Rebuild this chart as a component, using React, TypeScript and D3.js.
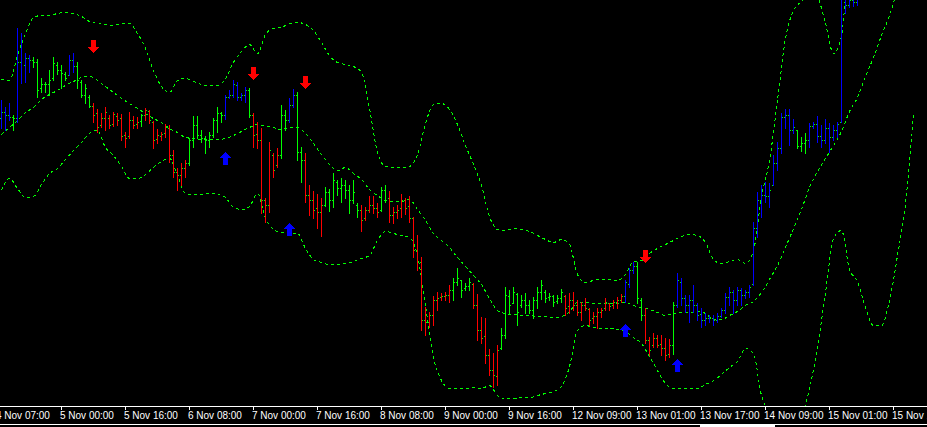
import React from 'react';
import * as d3 from 'd3';

const W = 927;
const H = 427;

// quotes in points (price x 10^4), one entry per H1 bar
const barHigh = [
  12900, 12893, 12897, 12885, 12972, 12967, 12947, 12945, 12943, 12941,
  12922, 12918, 12930, 12943, 12938, 12935, 12928, 12945, 12947, 12938,
  12920, 12916, 12905, 12897, 12891, 12887, 12893, 12885, 12888, 12887,
  12886, 12868, 12888, 12884, 12883, 12886, 12892, 12890, 12879, 12871,
  12868, 12876, 12875, 12850, 12832, 12837, 12840, 12862, 12884, 12884,
  12870, 12864, 12868, 12882, 12893, 12888, 12905, 12910, 12920, 12918,
  12907, 12913, 12912, 12887, 12878, 12872, 12802, 12858, 12847, 12852,
  12895, 12890, 12902, 12911, 12908, 12853, 12847, 12815, 12809, 12806,
  12802, 12813, 12811, 12827, 12820, 12822, 12820, 12815, 12820, 12797,
  12795, 12793, 12804, 12804, 12797, 12813, 12815, 12809, 12793, 12795,
  12806, 12802, 12804, 12783, 12765, 12743, 12693, 12688, 12704, 12708,
  12707, 12708, 12715, 12722, 12732, 12720, 12717, 12722, 12717, 12706,
  12683, 12682, 12651, 12647, 12655, 12672, 12713, 12710, 12713, 12707,
  12705, 12707, 12700, 12703, 12713, 12720, 12710, 12707, 12705, 12705,
  12711, 12705, 12707, 12708, 12700, 12698, 12702, 12692, 12688, 12692,
  12692, 12702, 12697, 12700, 12703, 12706, 12720, 12732, 12738, 12738,
  12702, 12692, 12663, 12667, 12665, 12665, 12662, 12661, 12698, 12727,
  12722, 12705, 12705, 12715, 12697, 12692, 12687, 12685, 12685, 12687,
  12692, 12707, 12713, 12710, 12713, 12712, 12710, 12715, 12778, 12808,
  12815, 12818, 12817, 12845, 12858, 12887, 12891, 12891, 12881, 12870,
  12863, 12867, 12877, 12878, 12884, 12875, 12881, 12877, 12875, 12878,
  13030, 13040, 13045, 13050, 13055,
];
const barLow = [
  12872, 12870, 12880, 12870, 12878, 12917, 12918, 12928, 12933, 12903,
  12908, 12908, 12905, 12920, 12926, 12912, 12920, 12925, 12928, 12912,
  12903, 12897, 12893, 12878, 12868, 12873, 12870, 12872, 12874, 12875,
  12860, 12853, 12862, 12872, 12872, 12874, 12880, 12877, 12852, 12857,
  12860, 12863, 12838, 12823, 12810, 12815, 12823, 12835, 12853, 12862,
  12858, 12847, 12853, 12863, 12868, 12878, 12881, 12902, 12903, 12900,
  12900, 12898, 12883, 12853, 12852, 12787, 12778, 12788, 12823, 12833,
  12842, 12870, 12878, 12893, 12840, 12818, 12798, 12785, 12782, 12772,
  12764, 12794, 12789, 12793, 12805, 12798, 12802, 12787, 12797, 12783,
  12769, 12780, 12788, 12787, 12783, 12789, 12798, 12778, 12777, 12782,
  12783, 12786, 12778, 12743, 12730, 12670, 12665, 12673, 12675, 12690,
  12700, 12700, 12698, 12700, 12715, 12703, 12710, 12710, 12692, 12660,
  12657, 12637, 12625, 12613, 12615, 12651, 12662, 12687, 12697, 12675,
  12693, 12687, 12687, 12682, 12692, 12701, 12698, 12700, 12694, 12697,
  12698, 12685, 12687, 12690, 12685, 12680, 12690, 12675, 12677, 12672,
  12683, 12690, 12690, 12692, 12692, 12698, 12698, 12713, 12727, 12697,
  12680, 12657, 12645, 12653, 12653, 12645, 12640, 12643, 12646, 12693,
  12695, 12688, 12678, 12688, 12680, 12673, 12675, 12678, 12675, 12678,
  12683, 12687, 12695, 12687, 12695, 12695, 12702, 12703, 12715, 12763,
  12783, 12798, 12793, 12815, 12830, 12847, 12872, 12855, 12867, 12852,
  12849, 12847, 12853, 12872, 12858, 12853, 12857, 12848, 12860, 12863,
  12878, 12987, 12993, 12994, 12995,
];
const barOpen = [
  12882, 12888, 12885, 12883, 12882, 12938, 12935, 12942, 12940, 12938,
  12912, 12916, 12916, 12922, 12935, 12930, 12926, 12925, 12940, 12934,
  12918, 12905, 12903, 12894, 12887, 12875, 12882, 12882, 12876, 12884,
  12882, 12865, 12864, 12880, 12876, 12879, 12885, 12889, 12878, 12861,
  12864, 12867, 12872, 12845, 12828, 12825, 12832, 12837, 12860, 12875,
  12865, 12862, 12860, 12865, 12880, 12887, 12885, 12903, 12905, 12915,
  12903, 12905, 12910, 12885, 12866, 12860, 12800, 12795, 12845, 12835,
  12845, 12885, 12880, 12895, 12905, 12848, 12840, 12805, 12800, 12792,
  12788, 12795, 12808, 12800, 12818, 12812, 12815, 12810, 12800, 12795,
  12790, 12782, 12790, 12795, 12792, 12790, 12810, 12802, 12785, 12788,
  12792, 12800, 12794, 12782, 12750, 12738, 12680, 12678, 12685, 12700,
  12703, 12704, 12705, 12710, 12718, 12720, 12712, 12714, 12716, 12695,
  12670, 12664, 12645, 12630, 12624, 12652, 12665, 12704, 12697, 12706,
  12695, 12700, 12695, 12690, 12700, 12708, 12708, 12703, 12704, 12699,
  12702, 12704, 12694, 12700, 12695, 12688, 12695, 12691, 12682, 12684,
  12688, 12692, 12697, 12695, 12698, 12700, 12704, 12716, 12730, 12734,
  12700, 12685, 12660, 12655, 12662, 12656, 12652, 12646, 12655, 12695,
  12718, 12702, 12695, 12700, 12695, 12686, 12680, 12682, 12682, 12680,
  12684, 12690, 12703, 12708, 12700, 12710, 12705, 12708, 12716, 12772,
  12800, 12805, 12804, 12815, 12837, 12852, 12883, 12885, 12870, 12870,
  12854, 12857, 12860, 12874, 12876, 12864, 12860, 12872, 12863, 12870,
  12878, 13020, 12995, 13000, 12998,
];
const barClose = [
  12888, 12885, 12883, 12882, 12938, 12960, 12942, 12940, 12938, 12910,
  12916, 12916, 12920, 12937, 12930, 12927, 12922, 12940, 12934, 12920,
  12905, 12912, 12894, 12885, 12873, 12882, 12888, 12875, 12886, 12880,
  12864, 12862, 12880, 12875, 12878, 12885, 12890, 12880, 12860, 12865,
  12866, 12873, 12845, 12828, 12825, 12832, 12837, 12860, 12875, 12865,
  12862, 12860, 12865, 12880, 12887, 12885, 12903, 12905, 12916, 12903,
  12905, 12910, 12885, 12865, 12860, 12800, 12795, 12850, 12830, 12845,
  12885, 12880, 12895, 12905, 12848, 12840, 12805, 12800, 12790, 12788,
  12795, 12808, 12800, 12820, 12812, 12815, 12810, 12800, 12808, 12790,
  12780, 12790, 12795, 12792, 12788, 12810, 12800, 12785, 12788, 12790,
  12800, 12792, 12782, 12750, 12738, 12680, 12678, 12685, 12700, 12702,
  12704, 12705, 12710, 12718, 12722, 12710, 12714, 12718, 12695, 12670,
  12662, 12645, 12630, 12625, 12650, 12665, 12705, 12695, 12708, 12688,
  12700, 12695, 12690, 12700, 12708, 12715, 12702, 12704, 12698, 12702,
  12708, 12692, 12700, 12695, 12688, 12695, 12692, 12680, 12684, 12688,
  12690, 12698, 12694, 12698, 12700, 12704, 12718, 12730, 12734, 12702,
  12685, 12660, 12650, 12662, 12655, 12652, 12645, 12655, 12695, 12720,
  12702, 12695, 12700, 12695, 12685, 12680, 12682, 12682, 12680, 12684,
  12690, 12703, 12708, 12700, 12710, 12705, 12708, 12713, 12772, 12800,
  12805, 12804, 12810, 12837, 12852, 12883, 12885, 12870, 12873, 12854,
  12857, 12860, 12874, 12876, 12864, 12860, 12872, 12863, 12870, 12876,
  13020, 12995, 13000, 12998, 13002,
];
// colour-state indicator per bar: B = up, R = down, G = flat
const barState =
  'BBBGBBBBGG' + 'GGGGGGGBBG' + 'GGGRRRRRRR' + 'RRRRRGRRRR' + 'RRRRRRRGGG' +
  'GGGGGGBBBB' + 'BBGRRRRRRR' + 'GGBBGGRRRR' + 'RGGGGGGGGG' + 'RRRRRGGRRR' +
  'RRRRRRRRRR' + 'RRRGGGGGRR' + 'RRRRRGGGGG' + 'GGGGGGGGGG' + 'GRRRRRRRRR' +
  'RRRRRRBBBG' + 'GRRRRRRRGB' + 'BBBBBBBBBB' + 'BBBBBBBBBB' + 'BBBBBBBBBG' +
  'GGBBBBBBBB' + 'BBBBB';

// Bollinger bands, sampled every second bar
const bandUpper = [
  12921, 12920, 12945, 12967, 12983, 12985, 12985, 12987, 12988, 12987,
  12984, 12979, 12977, 12976, 12975, 12977, 12977, 12967, 12952, 12930,
  12914, 12908, 12920, 12922, 12919, 12916, 12915, 12915, 12922, 12938,
  12949, 12956, 12947, 12966, 12972, 12973, 12977, 12978, 12976, 12970,
  12958, 12945, 12938, 12936, 12934, 12928, 12892, 12848, 12834, 12833,
  12833, 12834, 12846, 12877, 12896, 12897, 12891, 12876, 12855, 12836,
  12815, 12784, 12771, 12770, 12772, 12771, 12769, 12765, 12761, 12758,
  12761, 12756, 12726, 12718, 12720, 12721, 12721, 12720, 12726, 12739,
  12740, 12747, 12752, 12756, 12760, 12764, 12766, 12765, 12758, 12741,
  12737, 12739, 12741, 12737, 12750, 12804, 12840, 12900, 12962, 12990,
  12999, 13008, 13003, 12977, 12947, 12965, 13050, 13086, 13153, 13211,
  13255, 13275, 13265, 13250, 13205,
];
const bandMiddle = [
  12866, 12873, 12880, 12888, 12893, 12901, 12906, 12910, 12915, 12919,
  12923, 12924, 12920, 12914, 12908, 12902, 12897, 12892, 12887, 12882,
  12878, 12872, 12868, 12863, 12862, 12861, 12861, 12861, 12862, 12865,
  12869, 12873, 12876, 12874, 12873, 12871, 12873, 12873, 12867, 12857,
  12846, 12836, 12830, 12833, 12827, 12821, 12811, 12805, 12800, 12799,
  12799, 12801, 12791, 12780, 12767, 12760, 12753, 12743, 12734, 12725,
  12716, 12702, 12690, 12687, 12686, 12685, 12685, 12684, 12684, 12683,
  12684, 12689, 12698, 12698, 12697, 12697, 12697, 12697, 12698, 12695,
  12693, 12691, 12688, 12685, 12687, 12688, 12688, 12689, 12687, 12681,
  12681, 12685, 12689, 12695, 12699, 12708, 12721, 12735, 12753, 12772,
  12791, 12813, 12829, 12842, 12855, 12869, 12889, 12903, 12924, 12943,
  12965, 12985, 13010, 13030, 13050,
];
const bandLower = [
  12810, 12822, 12812, 12803, 12804, 12816, 12827, 12832, 12841, 12850,
  12858, 12867, 12870, 12853, 12845, 12834, 12822, 12822, 12826, 12833,
  12839, 12842, 12825, 12807, 12806, 12806, 12807, 12806, 12803, 12793,
  12791, 12794, 12807, 12782, 12771, 12768, 12767, 12767, 12752, 12741,
  12738, 12736, 12736, 12737, 12739, 12742, 12745, 12760, 12769, 12767,
  12765, 12763, 12745, 12695, 12643, 12620, 12612, 12612, 12612, 12613,
  12612, 12615, 12605, 12602, 12602, 12603, 12603, 12605, 12607, 12609,
  12614, 12634, 12670, 12675, 12673, 12672, 12672, 12671, 12669, 12663,
  12657, 12644, 12630, 12617, 12612, 12612, 12612, 12612, 12616, 12620,
  12626, 12633, 12639, 12652, 12647, 12605, 12588, 12572, 12550, 12555,
  12580, 12612, 12653, 12708, 12762, 12770, 12731, 12719, 12693, 12675,
  12675, 12700, 12745, 12797, 12885,
];

// signal arrows: bar index and tip price
const downArrowBars = [23, 63, 76, 161];
const downArrowPrices = [12947, 12920, 12911, 12737];
const upArrowBars = [56, 72, 156, 169];
const upArrowPrices = [12848, 12777, 12676, 12641];

const tickBars = [-1, 15, 31, 47, 63, 79, 95, 111, 127, 143, 159, 175, 191, 207, 223];
const tickLabels = [
  '4 Nov 07:00', '5 Nov 00:00', '5 Nov 16:00', '6 Nov 08:00', '7 Nov 00:00',
  '7 Nov 16:00', '8 Nov 08:00', '9 Nov 00:00', '9 Nov 16:00', '12 Nov 09:00',
  '13 Nov 01:00', '13 Nov 17:00', '14 Nov 09:00', '15 Nov 01:00', '15 Nov 17:00',
];

const stateColor: Record<string, string> = { B: '#0000ff', R: '#ff0000', G: '#00ff00' };
const GREEN = '#00ff00';

export default function App() {
  // 4px per bar, bar k sits in pixel column 1 + 4k
  const x = d3.scaleLinear().domain([0, 1]).range([1, 5]);
  const y = d3.scaleLinear().domain([12595, 13000]).range([405, 0]);
  const py = (v: number) => Math.round(y(v));

  const bandLine = d3
    .line<number>()
    .x((_, i) => x(i * 2) + 0.5)
    .y((d) => y(d) + 0.5)
    .curve(d3.curveMonotoneX);

  const downArrow = (cx: number, t: number) =>
    `M${cx - 2.5},${t - 13}H${cx + 2.5}V${t - 6}H${cx + 5.5}L${cx},${t}L${cx - 5.5},${t - 6}H${cx - 2.5}Z`;
  const upArrow = (cx: number, t: number) =>
    `M${cx - 2.5},${t + 13}H${cx + 2.5}V${t + 6}H${cx + 5.5}L${cx},${t}L${cx - 5.5},${t + 6}H${cx - 2.5}Z`;

  return (
    <svg
      width={W}
      height={H}
      style={{ position: 'absolute', left: 0, top: 0, display: 'block', background: '#000' }}
    >
      <defs>
        <clipPath id="plot">
          <rect x={0} y={0} width={W} height={406} />
        </clipPath>
      </defs>
      <rect x={0} y={0} width={W} height={H} fill="#000" />

      <g clipPath="url(#plot)" shapeRendering="crispEdges">
        {[bandUpper, bandMiddle, bandLower].map((b, i) => (
          <path
            key={i}
            d={bandLine(b) || ''}
            fill="none"
            stroke={GREEN}
            strokeWidth={1}
            strokeDasharray="3,3"
          />
        ))}

        {barHigh.map((h, k) => {
          const cx = x(k);
          const top = py(h);
          const bot = py(barLow[k]);
          return (
            <g key={k}>
              <rect x={cx} y={top} width={1} height={bot - top + 1} fill={stateColor[barState[k]]} />
              <rect x={cx - 1} y={py(barOpen[k])} width={1} height={1} fill={GREEN} />
              <rect x={cx + 1} y={py(barClose[k])} width={1} height={1} fill={GREEN} />
            </g>
          );
        })}

        {downArrowBars.map((b, i) => (
          <path key={'d' + i} d={downArrow(x(b) + 0.5, y(downArrowPrices[i]))} fill="#ff0000" />
        ))}
        {upArrowBars.map((b, i) => (
          <path key={'u' + i} d={upArrow(x(b) + 0.5, y(upArrowPrices[i]))} fill="#0000ff" />
        ))}
      </g>

      {/* time axis */}
      <g shapeRendering="crispEdges">
        <rect x={0} y={406} width={W} height={1} fill="#fff" />
        {tickBars.map((b) => (
          <rect key={b} x={x(b)} y={407} width={1} height={3} fill="#fff" />
        ))}
        <rect x={0} y={424} width={W} height={1} fill="#fff" />
        <rect x={700} y={424} width={75} height={3} fill="#fff" />
      </g>
      {tickBars.map((b, i) => (
        <text
          key={b}
          x={x(b) - 1}
          y={419}
          fill="#fff"
          fontSize={10}
          fontFamily="'Liberation Sans', Arial, sans-serif"
        >
          {tickLabels[i]}
        </text>
      ))}
    </svg>
  );
}
